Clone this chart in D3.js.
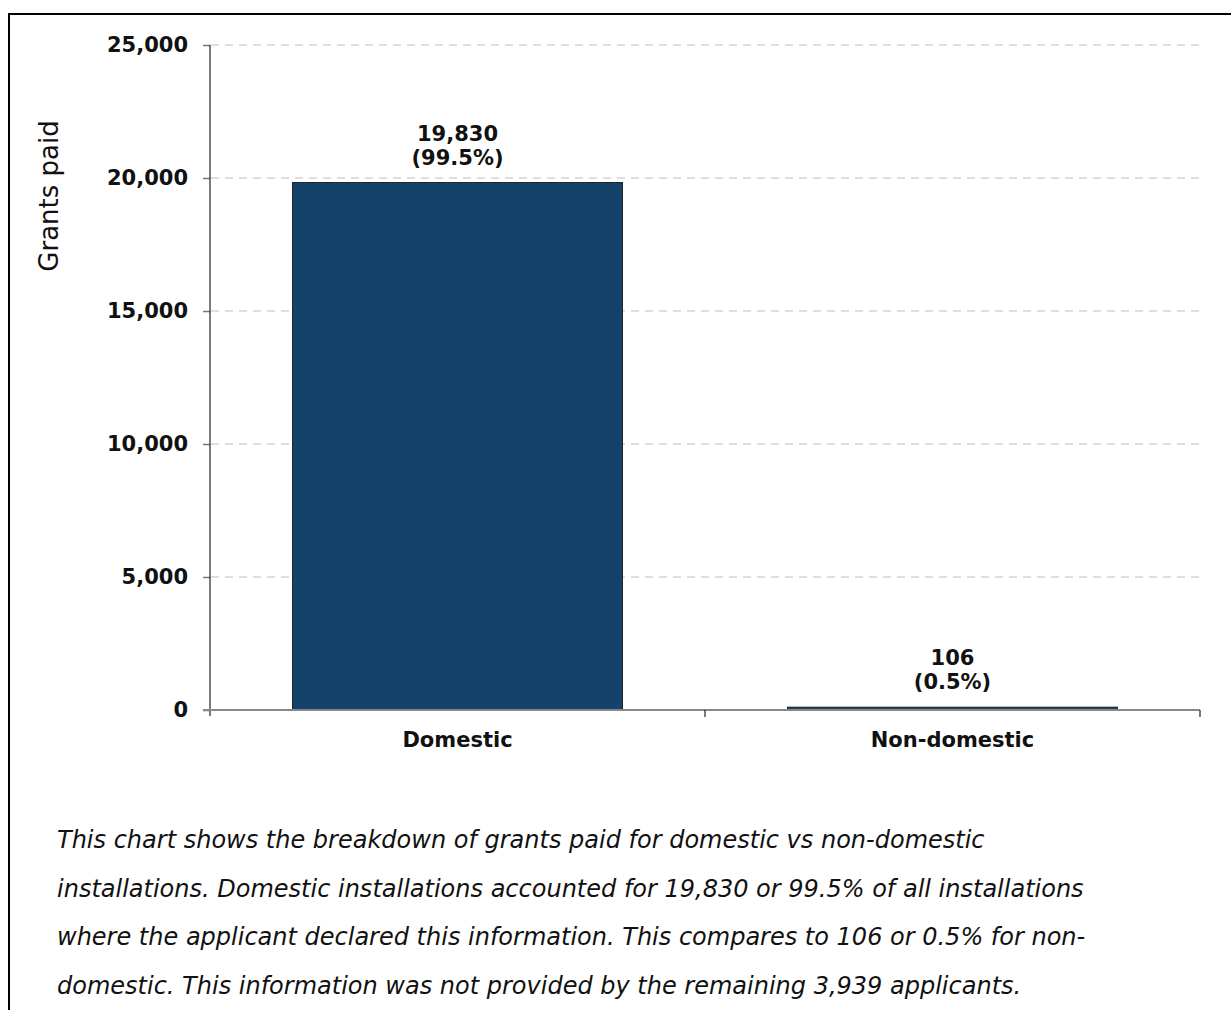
<!DOCTYPE html>
<html>
<head>
<meta charset="utf-8">
<script src="https://cdn.jsdelivr.net/npm/d3@7"></script>
<style>
  html, body { margin: 0; padding: 0; background: #fff; }
  svg { display: block; }
</style>
</head>
<body>
<svg id="chart" width="1231" height="1010"></svg>
<script>
const categories = ["Domestic", "Non-domestic"];
const values = [19830, 106];
const shares = ["99.5%", "0.5%"];
const yTicks = [0, 5000, 10000, 15000, 20000, 25000];
const yTitle = "Grants paid";
const captionLines = [
  "This chart shows the breakdown of grants paid for domestic vs non-domestic",
  "installations. Domestic installations accounted for 19,830 or 99.5% of all installations",
  "where the applicant declared this information. This compares to 106 or 0.5% for non-",
  "domestic. This information was not provided by the remaining 3,939 applicants."
];

const svg = d3.select("#chart");
const font = "'DejaVu Sans', Verdana, sans-serif";

// outer frame
svg.append("rect")
  .attr("x", 9).attr("y", 14).attr("width", 1300).attr("height", 1100)
  .attr("fill", "none").attr("stroke", "#000").attr("stroke-width", 2);

const x = d3.scaleBand().domain(categories).range([210, 1200])
  .paddingInner(1/3).paddingOuter(1/6);
const y = d3.scaleLinear().domain([0, 25000]).range([710, 45]);
const fmt = d3.format(",");

// gridlines
svg.append("g").selectAll("line").data(yTicks.filter(d => d > 0)).join("line")
  .attr("x1", 211).attr("x2", 1200)
  .attr("y1", d => y(d)).attr("y2", d => y(d))
  .attr("stroke", "#dedede").attr("stroke-width", 2)
  .attr("stroke-dasharray", "8,6");

// y axis
const yAxis = svg.append("g").attr("transform", "translate(210,0)")
  .call(d3.axisLeft(y).tickValues(yTicks).tickFormat(fmt).tickSize(7).tickPadding(15));
yAxis.select(".domain").remove();
yAxis.selectAll(".tick line").attr("stroke", "#777").attr("stroke-width", 1.5);
yAxis.selectAll(".tick text")
  .attr("font-family", font).attr("font-size", 21).attr("font-weight", "bold")
  .attr("fill", "#111");
svg.append("line").attr("x1", 210).attr("x2", 210)
  .attr("y1", y(25000)).attr("y2", y(0) + 6)
  .attr("stroke", "#222").attr("stroke-width", 1.2);

// bars
svg.append("g").selectAll("rect").data(categories).join("rect")
  .attr("x", d => x(d))
  .attr("width", x.bandwidth())
  .attr("y", (d, i) => y(values[i]))
  .attr("height", (d, i) => y(0) - y(values[i]))
  .attr("fill", "#15426b")
  .attr("stroke", "#222").attr("stroke-width", 1);

// x axis
const step = x.step();
const bounds = categories.map(c => x(c) - (step - x.bandwidth()) / 2).concat([x.range()[1]]);
svg.append("line").attr("x1", 203).attr("x2", 1200)
  .attr("y1", y(0)).attr("y2", y(0))
  .attr("stroke", "#888").attr("stroke-width", 2);
svg.append("g").selectAll("line").data(bounds.slice(1)).join("line")
  .attr("x1", d => d).attr("x2", d => d)
  .attr("y1", y(0)).attr("y2", y(0) + 7)
  .attr("stroke", "#222").attr("stroke-width", 1.2);
svg.append("g").selectAll("text").data(categories).join("text")
  .attr("x", d => x(d) + x.bandwidth() / 2)
  .attr("y", 747)
  .attr("text-anchor", "middle")
  .attr("font-family", font).attr("font-size", 21).attr("font-weight", "bold")
  .attr("fill", "#111")
  .text(d => d);

// value labels
const lbl = svg.append("g").selectAll("text").data(categories).join("text")
  .attr("text-anchor", "middle")
  .attr("font-family", font).attr("font-size", 21).attr("font-weight", "bold")
  .attr("fill", "#111");
lbl.append("tspan")
  .attr("x", d => x(d) + x.bandwidth() / 2)
  .attr("y", (d, i) => y(values[i]) - 42)
  .text((d, i) => fmt(values[i]));
lbl.append("tspan")
  .attr("x", d => x(d) + x.bandwidth() / 2)
  .attr("y", (d, i) => y(values[i]) - 18)
  .text((d, i) => "(" + shares[i] + ")");

// y title
svg.append("text")
  .attr("transform", "translate(58,196) rotate(-90)")
  .attr("text-anchor", "middle")
  .attr("font-family", font).attr("font-size", 26)
  .attr("fill", "#111")
  .text(yTitle);

// caption
svg.append("g").selectAll("text").data(captionLines).join("text")
  .attr("x", 57)
  .attr("y", (d, i) => 848 + i * 48.5)
  .attr("font-family", font).attr("font-size", 24).attr("font-style", "italic")
  .attr("fill", "#111")
  .text(d => d);
</script>
</body>
</html>
